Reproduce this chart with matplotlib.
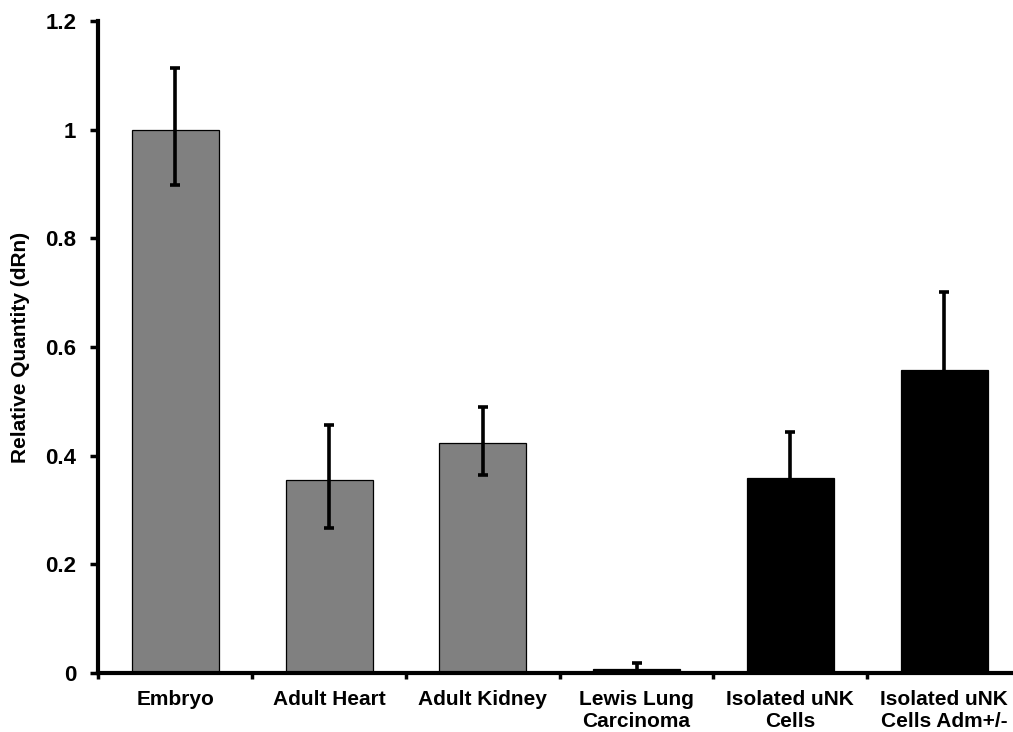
import matplotlib
matplotlib.use('Agg')
import matplotlib.pyplot as plt
import numpy as np

# Relative quantity per sample, with asymmetric error bars
categories = ['Embryo', 'Adult Heart', 'Adult Kidney', 'Lewis Lung\nCarcinoma',
              'Isolated uNK\nCells', 'Isolated uNK\nCells Adm+/-']
values = [1.0, 0.355, 0.424, 0.007, 0.359, 0.557]
err_low = [0.102, 0.088, 0.060, 0.005, 0.070, 0.120]
err_high = [0.114, 0.101, 0.065, 0.011, 0.084, 0.144]
colors = ['#808080', '#808080', '#808080', '#000000', '#000000', '#000000']

plt.rcParams['font.family'] = ['Liberation Sans', 'DejaVu Sans']
plt.rcParams['font.weight'] = 'bold'

fig = plt.figure(figsize=(10.13, 7.32), dpi=100)
ax = fig.add_axes([0.0972, 0.0806, 0.9107, 0.8907])

x = np.arange(len(categories))
ax.bar(x, values, width=0.565, color=colors, edgecolor='black', linewidth=0.9, zorder=2)
ax.errorbar(x, values, yerr=[err_low, err_high], fmt='none', ecolor='black',
            elinewidth=2.6, capsize=3.3, capthick=2.6, zorder=3)

ax.set_xlim(-0.5, len(categories) - 0.5)
ax.set_ylim(0, 1.2)
ax.set_yticks([0, 0.2, 0.4, 0.6, 0.8, 1.0, 1.2])
ax.set_yticklabels(['0', '0.2', '0.4', '0.6', '0.8', '1', '1.2'])

ax.set_xticks(x)
ax.set_xticklabels(categories, fontsize=15, fontweight='bold', linespacing=1.2)
ax.set_xticks(np.arange(len(categories) + 1) - 0.5, minor=True)
ax.tick_params(axis='x', which='major', length=0, pad=12)
ax.tick_params(axis='x', which='minor', direction='out', length=4, width=2.5)
ax.tick_params(axis='y', direction='out', length=6, width=2.5, labelsize=16, pad=10)
for lbl in ax.get_yticklabels():
    lbl.set_fontweight('bold')

for side in ['top', 'right']:
    ax.spines[side].set_visible(False)
for side in ['left', 'bottom']:
    ax.spines[side].set_linewidth(3)

ax.set_ylabel('Relative Quantity (dRn)', fontsize=15, fontweight='bold', labelpad=11)

fig.savefig('out.png', dpi=100)
